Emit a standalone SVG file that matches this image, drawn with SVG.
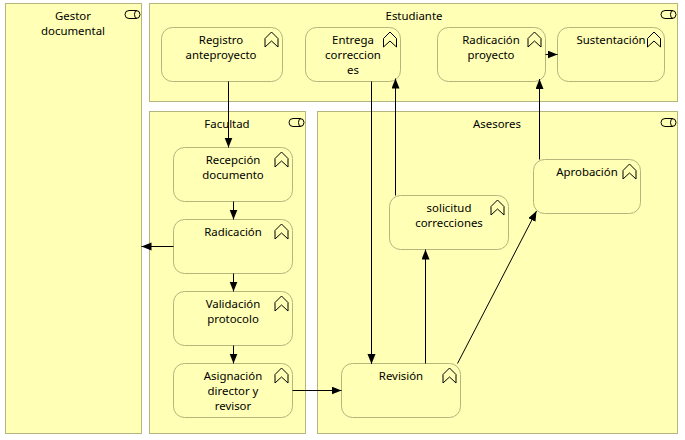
<svg xmlns="http://www.w3.org/2000/svg" width="685" height="440" viewBox="0 0 685 440">
<style>
.g{fill:#ffffb5;stroke:#b5b57e;stroke-width:1}
.n{fill:#ffffb5;stroke:#b5b57e;stroke-width:1}
text{font-family:"Noto Sans","Open Sans","DejaVu Sans",sans-serif;font-size:11.4px;fill:#000;text-anchor:middle}
.c{fill:none;stroke:#000;stroke-width:1}
.i{fill:none;stroke:#000;stroke-width:1}
</style>
<defs>
<marker id="a" markerUnits="userSpaceOnUse" markerWidth="12" markerHeight="10" refX="10" refY="4" orient="auto"><path d="M0 0L10 4L0 8Z" fill="#000"/></marker>
<g id="comp"><rect x="-7.500" y="-4" width="15" height="8" rx="4" class="i"/><path d="M4.500 -4a2.500 4 0 0 0 0 8" class="i"/></g>
<path id="chev" d="M-6.500 -1.500L0 -8L6.500 -1.500V7L0 1L-6.500 7Z" class="i"/>
</defs>
<rect width="685" height="440" fill="#fff"/>
<g id="gestor"><rect class="g" x="5.500" y="3.500" width="136" height="430"/><use href="#comp" x="132.500" y="14.500"/><text x="73" y="20">Gestor</text><text x="73" y="35">documental</text></g>
<g id="estudiante"><rect class="g" x="149.500" y="3.500" width="528" height="98"/><use href="#comp" x="668.500" y="14.500"/><text x="414" y="20">Estudiante</text></g>
<g id="facultad"><rect class="g" x="149.500" y="111.500" width="156" height="322"/><use href="#comp" x="296.500" y="122.500"/><text x="227" y="128">Facultad</text></g>
<g id="asesores"><rect class="g" x="317.500" y="111.500" width="360" height="322"/><use href="#comp" x="668.500" y="122.500"/><text x="497" y="128">Asesores</text></g>
<g id="registro"><rect class="n" x="161.500" y="27.500" width="121" height="54" rx="11"/><use href="#chev" x="271.500" y="40"/><text x="221" y="44">Registro</text><text x="221" y="59">anteproyecto</text></g>
<g id="entrega"><rect class="n" x="305.500" y="27.500" width="95" height="54" rx="11"/><use href="#chev" x="390" y="40"/><text x="353" y="44">Entrega</text><text x="353" y="59">correccion</text><text x="353" y="74">es</text></g>
<g id="radicacion-proyecto"><rect class="n" x="437.500" y="27.500" width="108" height="54" rx="11"/><use href="#chev" x="534.500" y="40"/><text x="491" y="44">Radicación</text><text x="491" y="59">proyecto</text></g>
<g id="sustentacion"><rect class="n" x="557.500" y="27.500" width="107" height="54" rx="11"/><use href="#chev" x="654" y="40"/><text x="611" y="44">Sustentación</text></g>
<g id="recepcion"><rect class="n" x="173.500" y="147.500" width="119" height="54" rx="11"/><use href="#chev" x="281.500" y="160"/><text x="233" y="164">Recepción</text><text x="233" y="179">documento</text></g>
<g id="radicacion"><rect class="n" x="173.500" y="219.500" width="119" height="54" rx="11"/><use href="#chev" x="281.500" y="232"/><text x="233" y="236">Radicación</text></g>
<g id="validacion"><rect class="n" x="173.500" y="291.500" width="119" height="54" rx="11"/><use href="#chev" x="281.500" y="304"/><text x="233" y="308">Validación</text><text x="233" y="323">protocolo</text></g>
<g id="asignacion"><rect class="n" x="173.500" y="363.500" width="119" height="54" rx="11"/><use href="#chev" x="281.500" y="376"/><text x="233" y="380">Asignación</text><text x="233" y="395">director y</text><text x="233" y="410">revisor</text></g>
<g id="revision"><rect class="n" x="341.500" y="363.500" width="119" height="54" rx="11"/><use href="#chev" x="449.500" y="376"/><text x="401" y="380">Revisión</text></g>
<g id="solicitud"><rect class="n" x="389.500" y="195.500" width="119" height="54" rx="11"/><use href="#chev" x="497.500" y="208"/><text x="449" y="212">solicitud</text><text x="449" y="227">correcciones</text></g>
<g id="aprobacion"><rect class="n" x="533.500" y="159.500" width="107" height="54" rx="11"/><use href="#chev" x="629.500" y="172"/><text x="587" y="176">Aprobación</text></g>
<g id="connectors">
<path class="c" marker-end="url(#a)" d="M228.500 81.500V147.500"/>
<path class="c" marker-end="url(#a)" d="M233.500 201.500V219.500"/>
<path class="c" marker-end="url(#a)" d="M233.500 273.500V291.500"/>
<path class="c" marker-end="url(#a)" d="M233.500 345.500V363.500"/>
<path class="c" marker-end="url(#a)" d="M173.500 246.500H141.500"/>
<path class="c" marker-end="url(#a)" d="M292.500 390.500H341.500"/>
<path class="c" marker-end="url(#a)" d="M371.500 81.500V364"/>
<path class="c" marker-end="url(#a)" d="M425.500 363.500V249.500"/>
<path class="c" marker-end="url(#a)" d="M395.500 195.500V78.500"/>
<path class="c" marker-end="url(#a)" d="M457.500 363.500L536.500 211"/>
<path class="c" marker-end="url(#a)" d="M539.500 159.500V79"/>
<path class="c" marker-end="url(#a)" d="M545.500 54.500H557.500"/>
</g>
</svg>
